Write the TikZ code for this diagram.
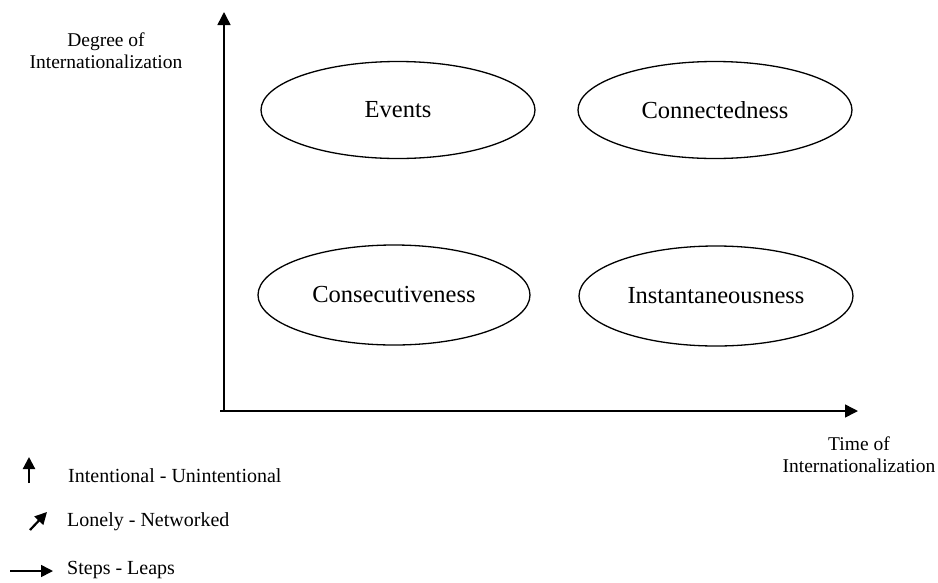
\documentclass[tikz,border=0pt]{standalone}
\usepackage{fontspec}
\setmainfont{Liberation Serif}
\usetikzlibrary{shapes.geometric,arrows.meta}
\begin{document}
\begin{tikzpicture}[x=1pt,y=-1pt,
  oval/.style={draw,ellipse,line width=1.3pt,minimum width=#1,minimum height=97pt,inner sep=0pt,font=\fontsize{24.5}{26}\selectfont},
  axis/.style={line width=1.5pt,-{Triangle[length=13pt,width=13pt]}},
  lab/.style={font=\fontsize{19.5}{22}\selectfont,align=center,inner sep=0pt},
  leg/.style={font=\fontsize{20}{22}\selectfont,anchor=west,inner sep=0pt},
  legarrow/.style={line width=2.2pt,-{Triangle[length=12pt,width=12pt]}}]
\useasboundingbox (0,0) rectangle (938,582);
\fill[white] (0,0) rectangle (938,582);
\coordinate (O) at (224,411);
\coordinate (Ytop) at (224,12);
\coordinate (Xend) at (858,411);
\draw[axis] (O) -- (Ytop);
\draw[line width=1.5pt] (220,411) -- (O);
\draw[axis] (O) -- (Xend);
\node[oval=274pt] (ev) at (398,110) {Events};
\node[oval=274pt] (co) at (715,110) {Connectedness};
\node[oval=272pt,minimum height=100pt] (cs) at (394,295) {Consecutiveness};
\node[oval=274pt,minimum height=100pt] (in) at (716,296) {Instantaneousness};
\node[lab] (ylab) at (106,51) {Degree of\\Internationalization};
\node[lab] (xlab) at (859,455) {Time of\\Internationalization};
\coordinate (a1s) at (29,483);
\coordinate (a1e) at (29,457);
\draw[legarrow] (a1s) -- (a1e);
\node[leg] (l1) at (68,476) {Intentional - Unintentional};
\coordinate (a2s) at (30,530);
\coordinate (a2e) at (47,512);
\draw[legarrow] (a2s) -- (a2e);
\node[leg] (l2) at (67,522) {Lonely - Networked};
\coordinate (a3s) at (10,571);
\coordinate (a3e) at (53,571);
\draw[legarrow,line width=1.6pt] (a3s) -- (a3e);
\node[leg] (l3) at (67,570) {Steps - Leaps};
\end{tikzpicture}
\end{document}
